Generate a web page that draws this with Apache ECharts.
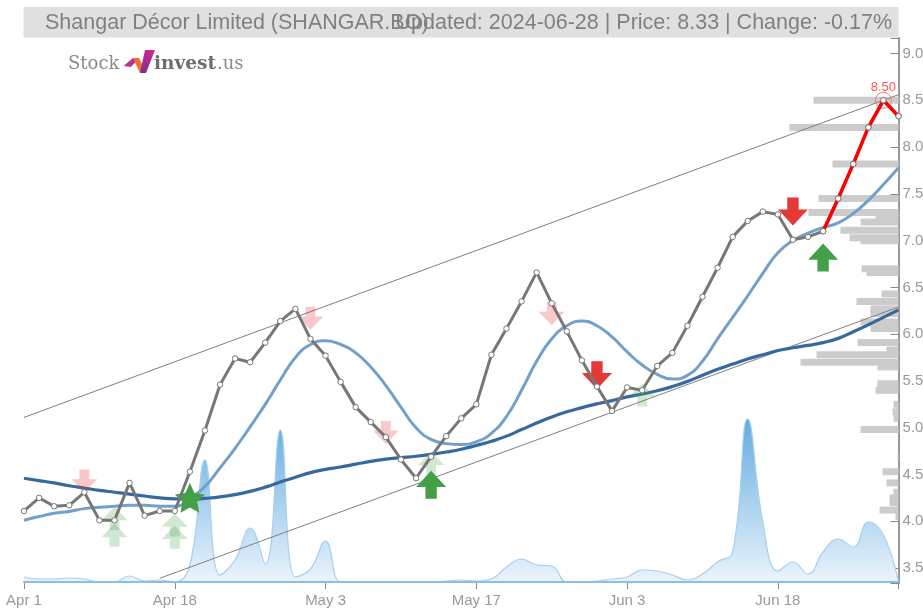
<!DOCTYPE html>
<html><head><meta charset="utf-8">
<style>html,body{margin:0;padding:0;background:#fff}#c{width:923px;height:610px}</style>
<script src="https://cdn.jsdelivr.net/npm/echarts@6/dist/echarts.min.js"></script>
</head><body><div id="c"></div>
<script>
const dates = ['Apr 1','Apr 2','Apr 3','Apr 4','Apr 5','Apr 8','Apr 9','Apr 10','Apr 15','Apr 16','Apr 18','Apr 19','Apr 22','Apr 23','Apr 24','Apr 25','Apr 26','Apr 29','Apr 30','May 2','May 3','May 6','May 7','May 8','May 9','May 10','May 13','May 14','May 15','May 16','May 17','May 21','May 22','May 23','May 24','May 27','May 28','May 29','May 30','May 31','Jun 3','Jun 4','Jun 5','Jun 6','Jun 7','Jun 10','Jun 11','Jun 12','Jun 13','Jun 14','Jun 18','Jun 19','Jun 20','Jun 21','Jun 24','Jun 25','Jun 26','Jun 27','Jun 28'];
const price = [4.11,4.25,4.16,4.17,4.31,4.01,4.01,4.41,4.06,4.11,4.11,4.53,4.97,5.46,5.74,5.70,5.91,6.14,6.27,5.95,5.77,5.49,5.22,5.06,4.90,4.66,4.46,4.69,4.91,5.10,5.25,5.78,6.06,6.35,6.66,6.33,6.03,5.72,5.44,5.18,5.43,5.40,5.66,5.80,6.09,6.40,6.71,7.04,7.21,7.31,7.28,7.01,7.04,7.10,7.45,7.82,8.21,8.50,8.33];
const fastAvg = [4.01,4.05,4.085,4.105,4.135,4.15,4.16,4.17,4.17,4.16,4.16,4.24,4.37,4.57,4.78,5.01,5.25,5.51,5.75,5.89,5.93,5.89,5.80,5.65,5.45,5.22,5.00,4.875,4.83,4.82,4.85,4.94,5.12,5.40,5.71,5.95,6.09,6.14,6.09,5.97,5.81,5.67,5.57,5.52,5.56,5.71,5.95,6.18,6.41,6.65,6.87,7.00,7.08,7.14,7.19,7.29,7.43,7.60,7.78];
const slowAvg = [4.46,4.435,4.41,4.38,4.355,4.33,4.31,4.29,4.27,4.25,4.24,4.235,4.245,4.26,4.285,4.32,4.365,4.42,4.47,4.52,4.555,4.58,4.61,4.64,4.665,4.68,4.695,4.715,4.74,4.77,4.81,4.855,4.91,4.98,5.05,5.115,5.17,5.215,5.255,5.29,5.33,5.36,5.395,5.44,5.495,5.56,5.625,5.68,5.735,5.78,5.825,5.855,5.88,5.91,5.955,6.025,6.10,6.18,6.26];
const volume = [5,3,3,4,3,0,0,6,1,2,0,17,122,7,22,54,18,152,5,13,41,0,0,0,0,0,0,0,1,2,1,3,15,23,17,16,0,0,1,3,5,12,11,7,2,8,20,30,163,60,11,20,8,30,43,35,60,47,0];
const upperChannel = [[0,5.11],[58,8.56]];
const lowerChannel = [[9.05,3.39],[58,6.29]];
const profileLevels = [8.50,8.21,7.82,7.45,7.30,7.25,7.20,7.11,7.03,7.00,6.70,6.66,6.43,6.35,6.27,6.22,6.13,6.06,5.91,5.83,5.78,5.70,5.65,5.47,5.40,5.25,5.17,5.10,4.98,4.69,4.53,4.41,4.31,4.25,4.20,4.12,4.05];
const profileAmounts = [85,109,66,80,90,23,38,58,49,38,37,32,17,42,28,28,38,28,41,12,82,98,21,21,23,5,6,5,38,1,16,12,5,9,9,19,3];
const strongSell = [[38,5.56],[51,7.31]];
const strongBuy = [[27,4.39],[53,6.82]];
const starBuy = [[11,4.25]];
const weakSell = [[4,4.43],[19,6.17],[24,4.95],[35,6.22]];
const weakBuy = [[6,4.03],[6,3.85],[10,3.96],[10,3.83],[27,4.62],[41,5.35]];
const priceTicks = [3.5,4,4.5,5,5.5,6,6.5,7,7.5,8,8.5,9];
const risingStart = 53;
const peakIndex = 57;
const titleLeft = 'Shangar Décor Limited (SHANGAR.BO)';
const titleRight = 'Updated: 2024-06-28 | Price: 8.33 | Change: -0.17%';

const grey='#999';
const FONT='"Liberation Sans",Arial,sans-serif';
const upArrow='path://M50 0L100 58L69 58L69 100L31 100L31 58L0 58Z';
const downArrow='path://M31 0L69 0L69 42L100 42L50 100L0 42L31 42Z';
const dotStyle={color:'#fff',borderColor:'#777',borderWidth:1};
function marks(name,data,symbol,size,color,opacity){
  return {name,type:'scatter',data,symbol,symbolSize:size,z:6,silent:true,
    itemStyle:{color,opacity}};
}
const option={
  animation:false,
  backgroundColor:'#fff',
  textStyle:{fontFamily:FONT},
  title:[
    {text:titleLeft,left:45,top:12.5,padding:0,textStyle:{fontSize:21.5,fontWeight:'normal',color:'#808080',fontFamily:FONT}},
    {text:titleRight,right:31,top:12.5,padding:0,textStyle:{fontSize:21.5,fontWeight:'normal',color:'#808080',fontFamily:FONT}}
  ],
  graphic:[
    {type:'rect',z:-1,silent:true,shape:{x:23.5,y:7,width:875,height:30.5},style:{fill:'#e0e0e0'}},
    {type:'text',left:68,top:55,z:20,silent:true,style:{text:'Stock',fontFamily:'"DejaVu Serif"',fontSize:18,fill:'#8a8a8a',fontWeight:'normal'}},
    {type:'polygon',z:20,silent:true,shape:{points:[[123.5,66],[133,58],[139,58],[131,67]]},style:{fill:'#b8329a'}},
    {type:'polygon',z:20,silent:true,shape:{points:[[133,58],[139,58],[146,72],[140,73]]},style:{fill:'#f0702a'}},
    {type:'polygon',z:20,silent:true,shape:{points:[[140,73],[146,73],[155,50],[145,50]]},style:{fill:{type:'linear',x:0,y:1,x2:1,y2:0,colorStops:[{offset:0,color:'#7a2c9c'},{offset:1,color:'#d9288c'}]}}},
    {type:'text',left:154,top:55,z:20,silent:true,style:{text:'invest',fontFamily:'"DejaVu Serif"',fontSize:18.5,fontWeight:'bold',fill:'#6e6e6e'}},
    {type:'text',left:217,top:55,z:20,silent:true,style:{text:'.us',fontFamily:'"DejaVu Serif"',fontSize:18,fill:'#8a8a8a'}}
  ],
  grid:{left:24,right:24.5,top:38,height:545,containLabel:false,outerBoundsMode:'none'},
  xAxis:[
    {type:'category',data:dates,boundaryGap:false,
     axisLine:{lineStyle:{color:'#aaa',width:2}},
     axisTick:{length:7,lineStyle:{color:'#888',width:1},interval:(i)=>i%10===0||i===dates.length-1},
     axisLabel:{color:grey,fontSize:15,margin:10,interval:(i)=>i%10===0&&i<=50,hideOverlap:false},
     splitLine:{show:false}},
    {type:'value',inverse:true,min:0,max:874.5,show:false,splitLine:{show:false}}
  ],
  yAxis:[
    {type:'value',position:'right',min:3.34,max:9.166,scale:true,
     axisLine:{show:true,lineStyle:{color:'#999',width:2}},
     axisTick:{show:true,inside:true,length:8,lineStyle:{color:'#888',width:1},customValues:[3.34].concat(priceTicks,[9.166])},
     axisLabel:{color:grey,fontSize:15,margin:4,customValues:priceTicks,formatter:v=>v.toFixed(1)},
     splitLine:{show:false}},
    {type:'value',min:-1,max:544,show:false,splitLine:{show:false}}
  ],
  series:[
    {name:'Volume',type:'line',yAxisIndex:1,data:volume,smooth:0.45,symbol:'none',z:1,
     lineStyle:{color:'#a5cfee',width:1.2},
     areaStyle:{origin:'start',opacity:1,color:{type:'linear',x:0,y:0,x2:0,y2:1,colorStops:[{offset:0,color:'#63ace0'},{offset:1,color:'#ecf4fc'}]}},
     markLine:{silent:true,symbol:'none',label:{show:false},lineStyle:{color:'#8dbfe4',width:2,type:'solid'},data:[{yAxis:0}]}},
    {name:'Profile',type:'custom',xAxisIndex:1,yAxisIndex:0,z:2,silent:true,
     data:profileAmounts.map((a,i)=>[a,profileLevels[i]]),
     encode:{x:0,y:1},
     renderItem:(p,api)=>{
       const a=api.coord([api.value(0),api.value(1)]);
       const b=api.coord([0,api.value(1)]);
       const h=api.size([0,0.075])[1];
       return {type:'rect',shape:{x:a[0],y:a[1]-h/2,width:b[0]-a[0],height:h},style:{fill:'#cccccc'}};
     }},
    {name:'Upper channel',type:'line',data:upperChannel,symbol:'none',z:3,lineStyle:{color:'#808080',width:1},silent:true},
    {name:'Lower channel',type:'line',data:lowerChannel,symbol:'none',z:3,lineStyle:{color:'#808080',width:1},silent:true},
    {name:'Slow average',type:'line',data:slowAvg,smooth:true,symbol:'none',z:4,lineStyle:{color:'#37699f',width:3.2}},
    {name:'Fast average',type:'line',data:fastAvg,smooth:true,symbol:'none',z:4,lineStyle:{color:'#72a0c9',width:3}},
    marks('Weak sell',weakSell,downArrow,[26,23],'#e53935',0.27),
    marks('Weak buy',weakBuy,upArrow,[26,23],'#43a047',0.25),
    {name:'Price',type:'line',data:price,symbol:'circle',symbolSize:5.5,showSymbol:true,z:7,
     lineStyle:{color:'#777',width:3},itemStyle:dotStyle,
     markPoint:{silent:true,symbol:'circle',symbolSize:16,
       itemStyle:{color:'rgba(0,0,0,0)',borderColor:'#f77',borderWidth:1},
       label:{show:true,position:'top',distance:-2,formatter:'8.50',color:'#f55',fontSize:13},
       data:[{coord:[peakIndex,price[peakIndex]]}]}},
    {name:'Rise',type:'line',data:price.map((v,i)=>i>=risingStart?v:null),symbol:'circle',symbolSize:5.5,z:8,
     lineStyle:{color:'#f00',width:3.5},itemStyle:dotStyle},
    marks('Strong sell',strongSell,downArrow,[30,28],'#e53935',1),
    marks('Strong buy',strongBuy,upArrow,[30,28],'#43a047',1),
    marks('Star buy',starBuy,'path://M50 0L65 32L100 37L75 60L81 95L50 78L19 95L25 60L0 37L35 32Z',[30,30],'#43a047',1)
  ]
};
const chart=echarts.init(document.getElementById('c'),null,{renderer:'canvas'});
chart.setOption(option);
</script></body></html>
